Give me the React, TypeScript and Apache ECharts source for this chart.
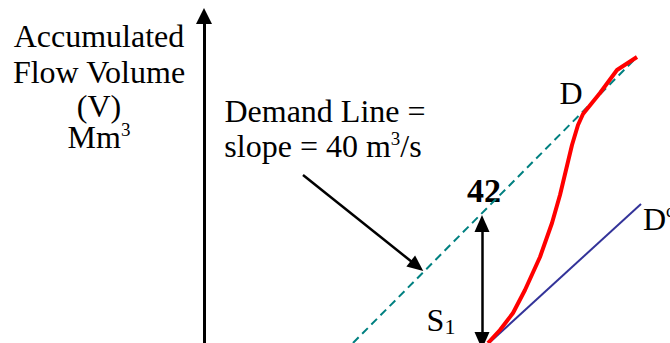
import React, { useEffect, useRef } from "react";
import * as echarts from "echarts";

// Mass-curve sketch: time on x (arbitrary units), accumulated volume on y.
const X_MAX = 46.6;
const Y_MAX = 32.7;

// Demand line (slope = 40 m3/s), drawn dashed
const demandLine: [number, number][] = [
  [14.9, 0],
  [43.3, 28.6],
];

// Accumulated inflow (mass curve)
const massCurve: [number, number][] = [
  [28.4, 0],
  [29.6, 1.3],
  [30.9, 3.0],
  [32.1, 5.3],
  [33.6, 8.6],
  [34.8, 12.0],
  [35.6, 14.8],
  [36.2, 17.3],
  [36.8, 19.8],
  [37.4, 21.8],
  [37.9, 22.9],
  [39.6, 25.0],
  [41.3, 27.3],
  [43.3, 28.6],
];

// Parallel demand line D'
const demandParallel: [number, number][] = [
  [28.5, 0],
  [43.7, 13.9],
];

// Storage S1 (double arrow) and the pointer to the demand line
const storageArrow: [number, number][] = [
  [27.8, 0.25],
  [27.8, 11.95],
];
const pointerArrow: [number, number][] = [
  [9.9, 16.8],
  [21.3, 7.7],
];

const FONT = "'Liberation Serif', 'Times New Roman', serif";

export default function App() {
  const ref = useRef<HTMLDivElement>(null);

  useEffect(() => {
    if (!ref.current) return;
    const chart = echarts.init(ref.current, null, { renderer: "svg" });

    const text = (
      t: string,
      x: number,
      y: number,
      opts: Record<string, unknown> = {}
    ) => ({
      type: "text",
      x,
      y,
      silent: true,
      style: {
        text: t,
        fill: "#000",
        font: `32px ${FONT}`,
        lineHeight: 26,
        align: "center",
        verticalAlign: "middle",
        ...opts,
      },
    });

    const supRich = {
      a: { fontSize: 32, fontFamily: FONT, lineHeight: 34 },
      s: { fontSize: 19, fontFamily: FONT, verticalAlign: "top", lineHeight: 24 },
      g: {
        fontSize: 18,
        fontFamily: FONT,
        verticalAlign: "top",
        lineHeight: 22,
        color: "#aaa",
      },
      b: { fontSize: 22, fontFamily: FONT, verticalAlign: "bottom", lineHeight: 30 },
    };

    chart.setOption({
      animation: false,
      grid: { left: 204, right: 0, top: 16, bottom: 0 },
      xAxis: {
        type: "value",
        min: 0,
        max: X_MAX,
        show: false,
      },
      yAxis: {
        type: "value",
        min: 0,
        max: Y_MAX,
        axisLine: {
          show: true,
          symbol: ["none", "triangle"],
          symbolSize: [16, 16],
          lineStyle: { color: "#000", width: 3 },
        },
        axisTick: { show: false },
        axisLabel: { show: false },
        splitLine: { show: false },
      },
      series: [
        {
          type: "line",
          data: demandLine,
          symbol: "none",
          lineStyle: { color: "#008080", width: 2, type: [8, 5] },
          silent: true,
        },
        {
          type: "line",
          data: demandParallel,
          symbol: "none",
          lineStyle: { color: "#333399", width: 2 },
          silent: true,
        },
        {
          type: "line",
          data: massCurve,
          symbol: "none",
          lineStyle: { color: "#ff0000", width: 4, join: "round" },
          silent: true,
          markLine: {
            silent: true,
            animation: false,
            label: { show: false },
            data: [
              [
                {
                  coord: storageArrow[0],
                  symbol: "triangle",
                  symbolSize: [15, 17],
                },
                {
                  coord: storageArrow[1],
                  symbol: "triangle",
                  symbolSize: [15, 17],
                },
              ],
              [
                { coord: pointerArrow[0], symbol: "none" },
                {
                  coord: pointerArrow[1],
                  symbol: "triangle",
                  symbolSize: [14, 16],
                },
              ],
            ],
            lineStyle: { color: "#000", width: 2.5, type: "solid" },
          },
        },
      ],
      graphic: [
        text("Accumulated", 99, 36),
        text("Flow Volume", 99, 72),
        text("(V)", 99, 106),
        text("{a|Mm}{s|3}", 99, 137, { rich: supRich }),
        text("Demand Line =", 325, 111),
        text("{a|slope = 40 m}{s|3}{a|/s}", 323, 146, { rich: supRich }),
        text("42", 484, 190, { font: `bold 34px ${FONT}` }),
        text("{a|S}{b|1}", 441, 320, { rich: supRich }),
        text("D", 571, 93),
        {
          ...text("{a|D}{g|c}", 643, 219),
          style: {
            text: "{a|D}{g|c}",
            fill: "#000",
            font: `32px ${FONT}`,
            align: "left",
            verticalAlign: "middle",
            rich: supRich,
          },
        },
      ],
    });

    return () => chart.dispose();
  }, []);

  return (
    <div
      ref={ref}
      style={{
        position: "fixed",
        left: 0,
        top: 0,
        width: 670,
        height: 343,
        background: "#fff",
      }}
    />
  );
}
